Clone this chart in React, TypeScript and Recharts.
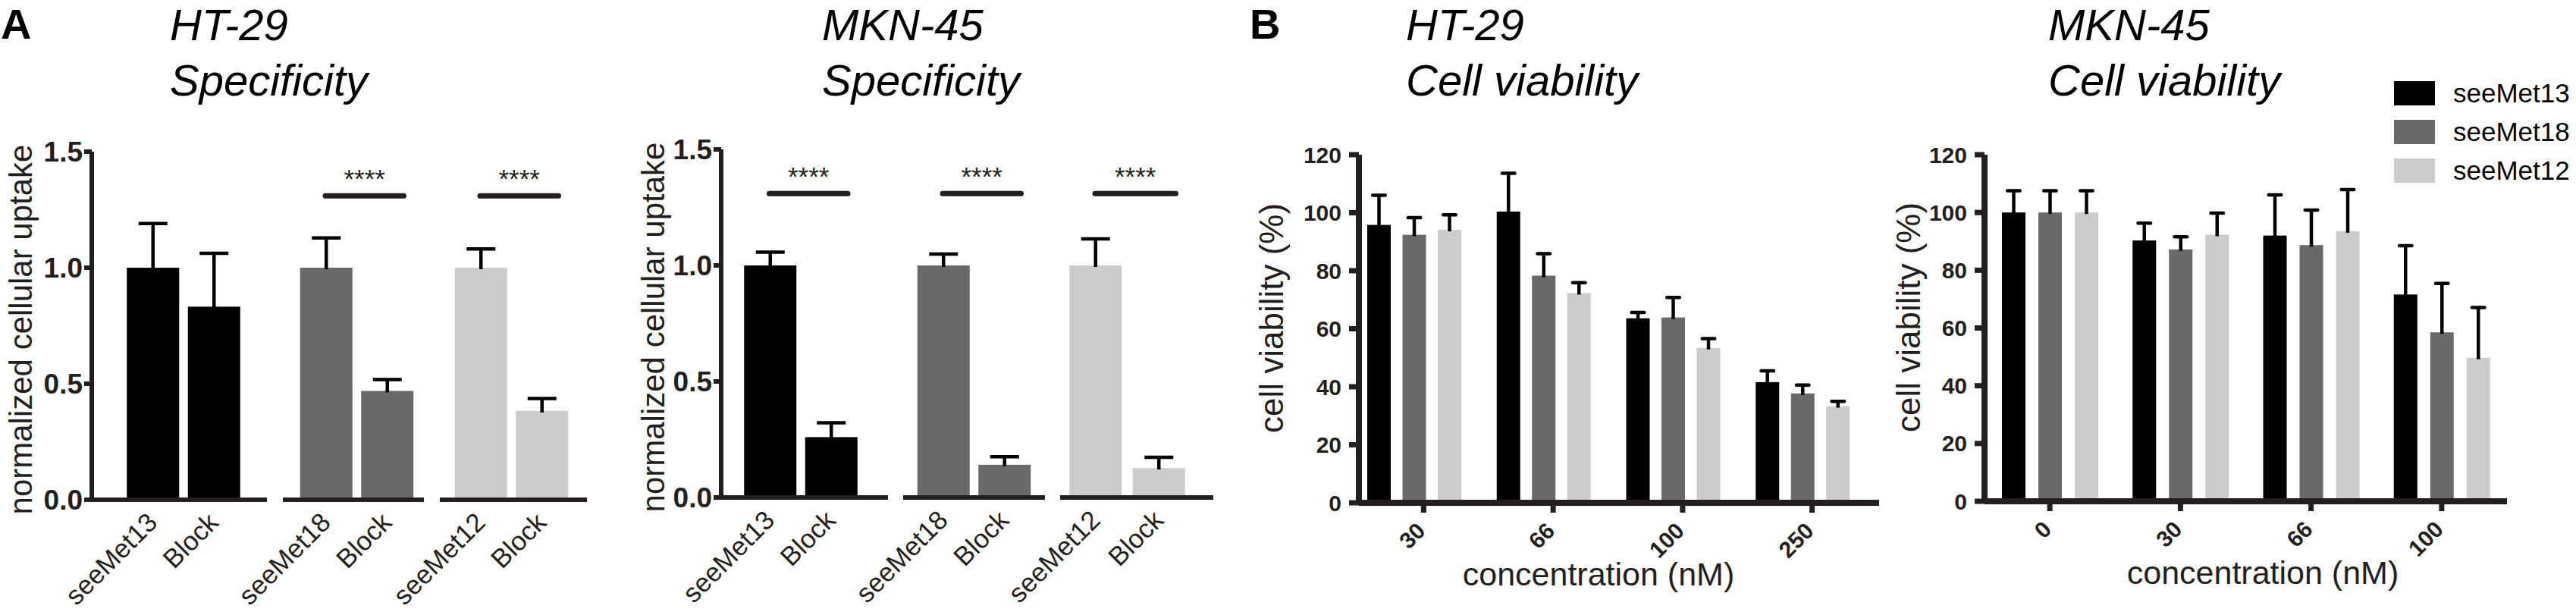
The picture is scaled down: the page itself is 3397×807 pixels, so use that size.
import React from 'react';
import { BarChart, Bar, XAxis, YAxis, ReferenceLine, Legend } from 'recharts';

const FONT = "'Liberation Sans', Arial, Helvetica, sans-serif";
const INK = '#231f20';
const FILL_13 = '#000000';
const FILL_18 = '#696969';
const FILL_12 = '#cccccc';
const CHART_H = 807;

// ---- Panel A: specificity (normalized cellular uptake) ----
const pairCompounds = ['seeMet13', 'seeMet18', 'seeMet12'];
const blockLabel = 'Block';
const uptakeTicks = [0, 0.5, 1.0, 1.5];
const sigLevel = 1.31;
const sigStars = '****';

// [compound, Block] for each compound
const htUptakeMean = [[1.0, 0.832], [1.0, 0.469], [1.0, 0.383]];
const htUptakeErr = [[0.19, 0.23], [0.128, 0.049], [0.081, 0.053]];
const htUptakeSig = [false, true, true];

const mknUptakeMean = [[1.0, 0.26], [1.0, 0.141], [1.0, 0.127]];
const mknUptakeErr = [[0.057, 0.062], [0.049, 0.035], [0.114, 0.046]];
const mknUptakeSig = [true, true, true];

// ---- Panel B: cell viability ----
const seriesOrder = ['seeMet13', 'seeMet18', 'seeMet12'];
const viabilityTicks = [0, 20, 40, 60, 80, 100, 120];

const htConc = ['30', '66', '100', '250'];
const htViab13 = [95.8, 100.4, 63.6, 41.6];
const htViab18 = [92.4, 78.3, 63.9, 37.7];
const htViab12 = [94.1, 72.3, 53.4, 33.3];
const htErr13 = [10.2, 13.2, 2.0, 3.9];
const htErr18 = [5.9, 7.6, 6.9, 2.9];
const htErr12 = [5.2, 3.6, 3.2, 1.7];

const mknConc = ['0', '30', '66', '100'];
const mknViab13 = [100, 90.3, 92.0, 71.6];
const mknViab18 = [100, 87.2, 88.7, 58.5];
const mknViab12 = [100, 92.3, 93.5, 49.7];
const mknErr13 = [7.5, 6.0, 14.1, 16.9];
const mknErr18 = [7.5, 4.4, 12.1, 16.9];
const mknErr12 = [7.5, 7.5, 14.4, 17.4];

// bar with a one-sided (upper) error bar, scaled from the bar's own geometry
const errorBarShape = (valueKey: string, errKey: string, cap: number, lineW: number, capStyle: 'butt' | 'round') =>
  (props: any) => {
    const { x, y, width, height, fill, payload } = props;
    const v = payload[valueKey];
    const perUnit = v ? height / v : 0;
    const top = y - payload[errKey] * perUnit;
    const cx = x + width / 2;
    const half = capStyle === 'round' ? cap / 2 - lineW / 2 : cap / 2;
    return (
      <g>
        <rect x={x} y={y} width={width} height={height} fill={fill} />
        <line x1={cx} x2={cx} y1={y + 2} y2={top} stroke="#000" strokeWidth={lineW} />
        <line x1={cx - half} x2={cx + half} y1={top} y2={top} stroke="#000" strokeWidth={lineW} strokeLinecap={capStyle} />
      </g>
    );
  };

const sigLineShape = (props: any) => {
  const { x1, x2, y1 } = props;
  if (x1 == null || x2 == null) return <g />;
  const a = x1 - 1;
  const b = x2 + 22;
  const mid = (a + b) / 2;
  return (
    <g>
      <line x1={a} x2={b} y1={y1} y2={y1} stroke={INK} strokeWidth={7} strokeLinecap="round" />
      <text x={mid} y={y1 - 10} textAnchor="middle" fontFamily={FONT} fontSize={35} fill={INK}>{sigStars}</text>
    </g>
  );
};

const yAxisLabel = (text: string, cx: number, shift: number, size: number) => (props: any) => {
  const vb = props.viewBox || { y: 0, height: CHART_H };
  const cy = vb.y + vb.height / 2 + shift;
  return (
    <text x={cx} y={cy} transform={`rotate(-90, ${cx}, ${cy})`} textAnchor="middle" dominantBaseline="central"
      fontFamily={FONT} fontSize={size} fill={INK}>{text}</text>
  );
};

const xAxisLabel = (text: string, dx: number, dy: number) => (props: any) => {
  const vb = props.viewBox || { x: 0, y: 0, width: 0 };
  const cx = vb.x + vb.width / 2 + dx;
  return <text x={cx} y={vb.y + dy} textAnchor="middle" fontFamily={FONT} fontSize={43} fill={INK}>{text}</text>;
};

// rotated category labels (axis y is passed in, tick size/margin are 0)
const pairTick = (axisY: number) => (props: any) => {
  const { x, payload } = props;
  return (
    <g transform={`translate(${x + 8}, ${axisY + 32}) rotate(-45)`}>
      <text x={0} y={0} textAnchor="end" fontFamily={FONT} fontSize={35} fill={INK}>{payload.value}</text>
    </g>
  );
};

const concTick = (axisY: number, shift: number) => (props: any) => {
  const { x, payload } = props;
  const tx = x + shift;
  return (
    <g>
      <line x1={tx} x2={tx} y1={axisY} y2={axisY + 13} stroke={INK} strokeWidth={7} />
      <g transform={`translate(${tx + 4}, ${axisY + 39}) rotate(-45)`}>
        <text x={0} y={0} textAnchor="end" fontFamily={FONT} fontWeight="bold" fontSize={30} fill={INK}>{payload.value}</text>
      </g>
    </g>
  );
};

interface PairProps {
  left: number;
  yAxisWidth: number;
  plotWidth: number;
  top: number;
  axisY: number;
  names: string[];
  means: number[];
  errs: number[];
  fill: string;
  padL: number;
  padR: number;
  sig: boolean;
  yLabelX?: number;
}

const PairChart = (p: PairProps) => {
  const data = p.names.map((name, i) => ({ name, mean: p.means[i], err: p.errs[i] }));
  const showY = p.yAxisWidth > 0;
  return (
    <div style={{ position: 'absolute', left: p.left, top: 0 }}>
      <BarChart width={p.yAxisWidth + p.plotWidth} height={CHART_H} data={data}
        margin={{ top: p.top, right: 0, bottom: 0, left: 0 }} barSize={69}>
        <XAxis dataKey="name" height={CHART_H - p.axisY} interval={0}
          axisLine={{ stroke: INK, strokeWidth: 6 }} tickLine={false} tickSize={0} tickMargin={0}
          tick={pairTick(p.axisY)} padding={{ left: p.padL, right: p.padR }} />
        <YAxis hide={!showY} width={showY ? p.yAxisWidth : 0} domain={[0, 1.5]} ticks={uptakeTicks}
          tickFormatter={(v: number) => v.toFixed(1)} interval={0}
          axisLine={{ stroke: INK, strokeWidth: 6 }} tickLine={{ stroke: INK, strokeWidth: 6 }}
          tickSize={10} tickMargin={2}
          tick={{ fontFamily: FONT, fontSize: 37, fontWeight: 'bold', fill: INK }}
          label={showY ? { content: yAxisLabel('normalized cellular uptake', p.yLabelX ?? 27, 5, 42) } : undefined} />
        <Bar dataKey="mean" fill={p.fill} barSize={69} isAnimationActive={false}
          shape={errorBarShape('mean', 'err', 38, 4.5, 'butt')} />
        {p.sig && (
          <ReferenceLine segment={[{ x: p.names[0], y: sigLevel }, { x: p.names[1], y: sigLevel }]}
            stroke={INK} strokeWidth={7} shape={sigLineShape} />
        )}
      </BarChart>
    </div>
  );
};

interface ViabilityProps {
  left: number;
  plotWidth: number;
  rightMargin: number;
  top: number;
  axisY: number;
  conc: string[];
  v13: number[];
  v18: number[];
  v12: number[];
  e13: number[];
  e18: number[];
  e12: number[];
  pad: { left: number; right: number };
  tickShift: number;
  barGap: number;
  yLabelX: number;
  xLabelDx: number;
  legend?: boolean;
}

const Y_AXIS_B = 147;

const renderLegend = (props: any) => {
  const items = [...(props.payload || [])].sort(
    (a: any, b: any) => seriesOrder.indexOf(a.value) - seriesOrder.indexOf(b.value),
  );
  return (
    <div style={{ position: 'relative', width: 240, height: 160, fontFamily: FONT }}>
      {items.map((it: any, i: number) => (
        <div key={it.value} style={{ position: 'absolute', left: 0, top: i * 51, width: 240, height: 51 }}>
          <div style={{ position: 'absolute', left: 0, top: 2, width: 54, height: 32, background: it.color }} />
          <div style={{ position: 'absolute', left: 78, top: 0, fontSize: 35, lineHeight: '35px', color: '#000', whiteSpace: 'nowrap' }}>
            {it.value}
          </div>
        </div>
      ))}
    </div>
  );
};

const ViabilityChart = (p: ViabilityProps) => {
  const data = p.conc.map((c, i) => ({
    conc: c,
    seeMet13: p.v13[i], seeMet18: p.v18[i], seeMet12: p.v12[i],
    e13: p.e13[i], e18: p.e18[i], e12: p.e12[i],
  }));
  return (
    <div style={{ position: 'absolute', left: p.left, top: 0 }}>
      <BarChart width={Y_AXIS_B + p.plotWidth + p.rightMargin} height={CHART_H} data={data}
        margin={{ top: p.top, right: p.rightMargin, bottom: 0, left: 0 }} barSize={31} barGap={p.barGap}>
        <XAxis dataKey="conc" height={CHART_H - p.axisY} interval={0}
          axisLine={{ stroke: INK, strokeWidth: 8 }} tickLine={false} tickSize={0} tickMargin={0}
          tick={concTick(p.axisY, p.tickShift)} padding={p.pad}
          label={{ content: xAxisLabel('concentration (nM)', p.xLabelDx, 109) }} />
        <YAxis width={Y_AXIS_B} domain={[0, 120]} ticks={viabilityTicks} interval={0}
          axisLine={{ stroke: INK, strokeWidth: 8 }} tickLine={{ stroke: INK, strokeWidth: 7 }}
          tickSize={13} tickMargin={10}
          tick={{ fontFamily: FONT, fontSize: 30, fontWeight: 'bold', fill: INK }}
          label={{ content: yAxisLabel('cell viability (%)', p.yLabelX, -14, 44) }} />
        {p.legend && (
          <Legend layout="vertical" align="center" verticalAlign="middle" content={renderLegend}
            wrapperStyle={{ left: 687, top: 105, width: 240, height: 160 }} />
        )}
        <Bar dataKey="seeMet13" name="seeMet13" fill={FILL_13} isAnimationActive={false}
          shape={errorBarShape('seeMet13', 'e13', 21, 4.5, 'round')} />
        <Bar dataKey="seeMet18" name="seeMet18" fill={FILL_18} isAnimationActive={false}
          shape={errorBarShape('seeMet18', 'e18', 21, 4.5, 'round')} />
        <Bar dataKey="seeMet12" name="seeMet12" fill={FILL_12} isAnimationActive={false}
          shape={errorBarShape('seeMet12', 'e12', 21, 4.5, 'round')} />
      </BarChart>
    </div>
  );
};

const titles = [
  { x: 224, lines: ['HT-29', 'Specificity'] },
  { x: 1084, lines: ['MKN-45', 'Specificity'] },
  { x: 1854, lines: ['HT-29', 'Cell viability'] },
  { x: 2701, lines: ['MKN-45', 'Cell viability'] },
];

const fills = [FILL_13, FILL_18, FILL_12];

const htLayout = [
  { left: 0, yAxisWidth: 121, plotWidth: 231, padL: 40.25, padR: 29.75 },
  { left: 373, yAxisWidth: 0, plotWidth: 186, padL: 16.75, padR: 8.25 },
  { left: 580, yAxisWidth: 0, plotWidth: 194, padL: 13.75, padR: 19.25 },
];
const mknLayout = [
  { left: 830, yAxisWidth: 121, plotWidth: 220, padL: 24.25, padR: 34.75 },
  { left: 1191, yAxisWidth: 0, plotWidth: 187, padL: 12.75, padR: 13.25 },
  { left: 1398, yAxisWidth: 0, plotWidth: 202, padL: 5.25, padR: 29.75 },
];

export default function App() {
  return (
    <div style={{ position: 'relative', width: 3397, height: 807, background: '#fff', overflow: 'hidden' }}>
      <style>{'body{margin:0} .recharts-wrapper, .recharts-surface{overflow:visible !important}'}</style>
      <svg width={3397} height={807} style={{ position: 'absolute', left: 0, top: 0 }}>
        <text x={1} y={51} fontFamily={FONT} fontWeight="bold" fontSize={56} fill="#000">A</text>
        <text x={1648} y={51} fontFamily={FONT} fontWeight="bold" fontSize={56} fill="#000">B</text>
        {titles.map((t) => (
          <g key={t.x}>
            <text x={t.x} y={53} fontFamily={FONT} fontStyle="italic" fontSize={58} fill="#000">{t.lines[0]}</text>
            <text x={t.x} y={126} fontFamily={FONT} fontStyle="italic" fontSize={58} fill="#000">{t.lines[1]}</text>
          </g>
        ))}
      </svg>

      {pairCompounds.map((c, i) => (
        <PairChart key={`ht-${c}`} {...htLayout[i]} top={200} axisY={659}
          names={[c, blockLabel]} means={htUptakeMean[i]} errs={htUptakeErr[i]}
          fill={fills[i]} sig={htUptakeSig[i]} yLabelX={27} />
      ))}
      {pairCompounds.map((c, i) => (
        <PairChart key={`mkn-${c}`} {...mknLayout[i]} top={197} axisY={656}
          names={[c, blockLabel]} means={mknUptakeMean[i]} errs={mknUptakeErr[i]}
          fill={fills[i]} sig={mknUptakeSig[i]} yLabelX={31} />
      ))}

      <ViabilityChart left={1792 - Y_AXIS_B} plotWidth={686} rightMargin={0} top={204} axisY={663}
        conc={htConc} v13={htViab13} v18={htViab18} v12={htViab12} e13={htErr13} e18={htErr18} e12={htErr12}
        pad={{ left: -12, right: 15 }} tickShift={12} barGap={15.5} yLabelX={31} xLabelDx={-27} />
      <ViabilityChart left={2617 - Y_AXIS_B} plotWidth={689} rightMargin={91} top={204} axisY={661}
        conc={mknConc} v13={mknViab13} v18={mknViab18} v12={mknViab12} e13={mknErr13} e18={mknErr18} e12={mknErr12}
        pad={{ left: 0, right: 0 }} tickShift={0} barGap={17} yLabelX={46.5} xLabelDx={22.5} legend />
    </div>
  );
}
